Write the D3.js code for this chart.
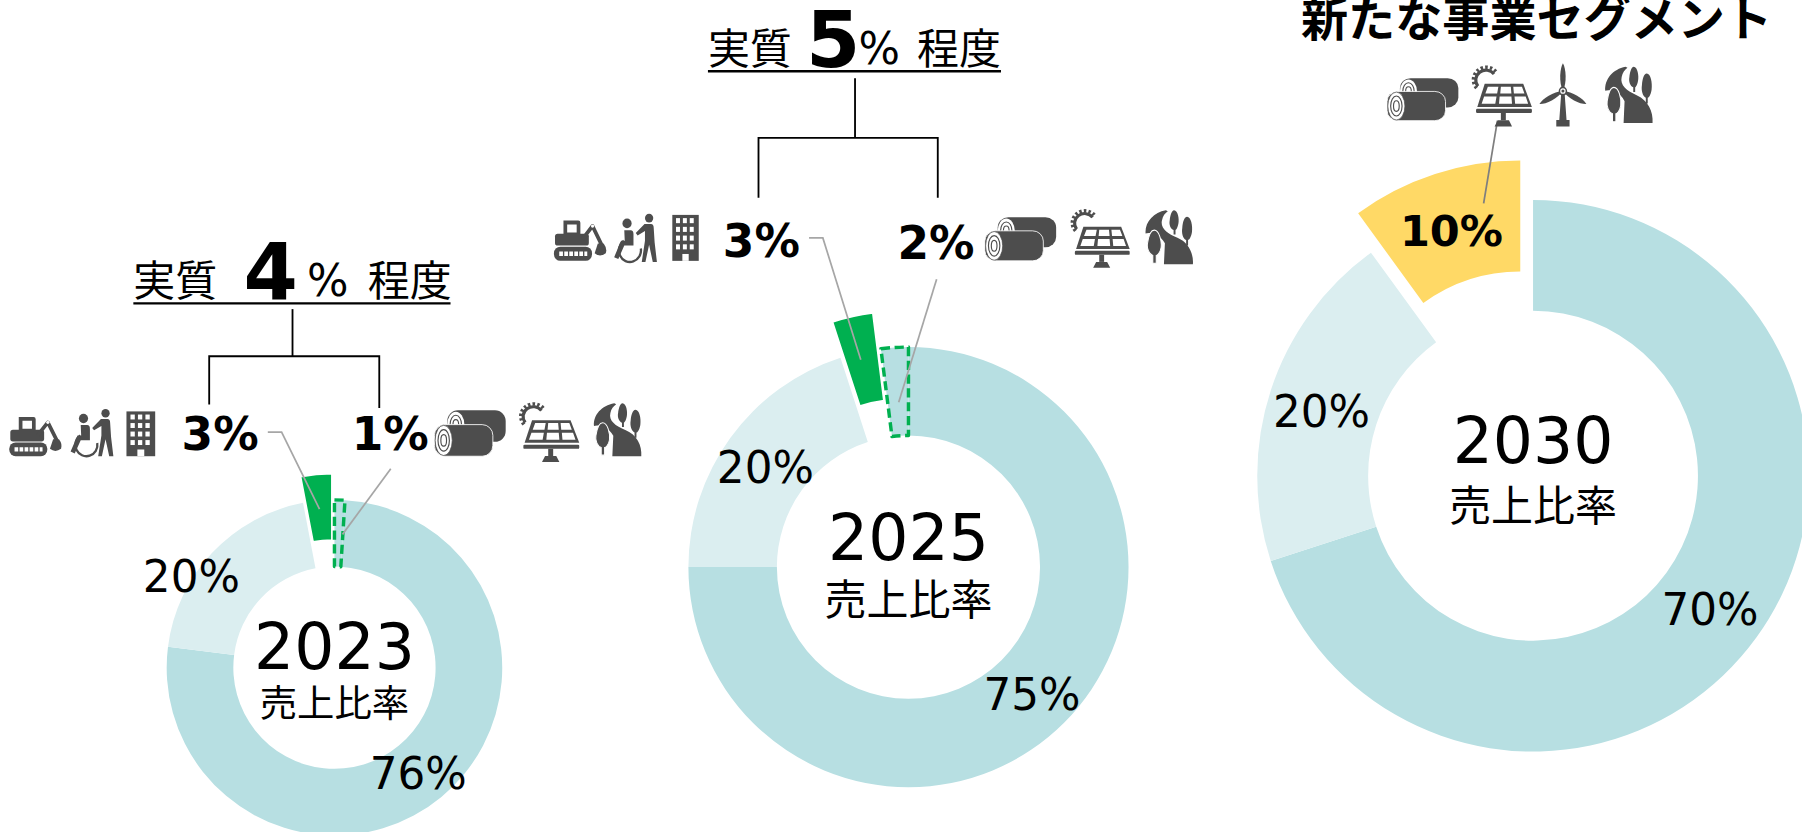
<!DOCTYPE html>
<html><head><meta charset="utf-8">
<script src="https://cdn.jsdelivr.net/npm/d3@7/dist/d3.min.js"></script>
<style>html,body{margin:0;background:#fff}svg{display:block;font-family:"DejaVu Sans","Noto Sans CJK JP",sans-serif}</style>
</head><body><svg id="c"></svg>
<script>
// ---- data ----
const years = ["2023","2025","2030"];
const caption = "売上比率";
const values2023 = [76,20,3,1];
const values2025 = [75,20,3,2];
const values2030 = [70,20,10];
const kinds2023 = ["main","sub","green","dashed"];
const kinds2025 = ["main","sub","green","dashed"];
const kinds2030 = ["main","sub","yellow"];
const headerLeft = "実質", headerRight = "程度";
const header2023 = "4", header2025 = "5";
const title2030 = "新たな事業セグメント";

const color = {main:"#b7dfe2",sub:"#dbeef0",green:"#00b050",yellow:"#ffd966",dashed:"#b7dfe2"};
const W=1568,H=724;
const svg=d3.select("#c").attr("width",1802).attr("height",832).attr("viewBox",`0 0 ${W} ${H}`);

const charts=[
 {values:values2023,kinds:kinds2023,year:years[0],cx:291,cy:581,r:146,r0:88,rot:3.6,explode:23,
  yearY:582,capY:624,capSize:32.5,yearSize:55,
  labels:[{t:"76%",x:364,y:687},{t:"20%",x:166.5,y:515}]},
 {values:values2025,kinds:kinds2025,year:years[1],cx:790.5,cy:493.5,r:191.5,r0:114.5,rot:0,explode:32,
  yearY:487,capY:535,capSize:36.5,yearSize:55,
  labels:[{t:"75%",x:898,y:618},{t:"20%",x:666,y:420}]},
 {values:values2030,kinds:kinds2030,year:years[2],cx:1334,cy:414,r:240,r0:143.5,rot:0,explode:36,
  yearY:403,capY:453,capSize:36.5,yearSize:55,
  labels:[{t:"70%",x:1488,y:544},{t:"20%",x:1150,y:372}]}
];

charts.forEach(c=>{
  const g=svg.append("g").attr("transform",`translate(${c.cx},${c.cy})`);
  const rad=c.rot*Math.PI/180;
  const pie=d3.pie().sort(null).startAngle(rad).endAngle(rad+2*Math.PI);
  const arc=d3.arc().innerRadius(c.r0).outerRadius(c.r);
  const arcs=pie(c.values).map((d,i)=>({...d,kind:c.kinds[i]}));
  g.selectAll("path.s").data(arcs).join("path").attr("class","s")
    .attr("d",arc)
    .attr("fill",d=>color[d.kind])
    .attr("stroke",d=>d.kind==="green"?"#fff":d.kind==="dashed"?"#00b050":"none")
    .attr("stroke-width",d=>d.kind==="dashed"?3:1.6)
    .attr("stroke-dasharray",d=>d.kind==="dashed"?"8 4":null)
    .attr("stroke-linejoin","round")
    .attr("transform",d=>{
      if(d.kind!=="green"&&d.kind!=="yellow")return null;
      const m=(d.startAngle+d.endAngle)/2;
      return `translate(${Math.sin(m)*c.explode},${-Math.cos(m)*c.explode})`;
    });
  c.labels.forEach(l=>svg.append("text").attr("x",l.x).attr("y",l.y).attr("text-anchor","middle").attr("font-size",38).text(l.t));
  svg.append("text").attr("x",c.cx).attr("y",c.yearY).attr("text-anchor","middle").attr("font-size",c.yearSize).text(c.year);
  svg.append("text").attr("x",c.cx).attr("y",c.capY).attr("text-anchor","middle").attr("font-size",c.capSize).text(caption);
});

// ---- header text ----
function txt(x,y,s,size,weight,anchor){
  return svg.append("text").attr("x",x).attr("y",y).attr("font-size",size).attr("font-weight",weight||400).attr("text-anchor",anchor||"start").text(s);
}
function line(pts,col,w){
  svg.append("path").attr("d",d3.line()(pts)).attr("fill","none").attr("stroke",col).attr("stroke-width",w);
}
txt(116,258,headerLeft,36.5); txt(235.5,260,header2023,68,700,"middle"); txt(267,258,"%",38); txt(320,258,headerRight,36.5);
line([[116,264],[392,264]],"#000",2);
txt(616,56,headerLeft,36.5); txt(725,58,header2025,68,700,"middle"); txt(747,56,"%",38); txt(798,56,headerRight,36.5);
line([[616,62],[871,62]],"#000",2);
txt(1337,31,title2030,41,700,"middle");

// ---- brackets ----
line([[254.5,269],[254.5,310]],"#000",1.6); line([[182,352],[182,310],[330,310],[330,355]],"#000",1.6);
line([[744,68],[744,120]],"#000",1.6); line([[660,172],[660,120],[816,120],[816,172]],"#000",1.6);

// ---- bold labels ----
txt(191.5,392,"3%",39.5,700,"middle"); txt(339.5,392,"1%",39.5,700,"middle");
txt(662.5,224,"3%",39.5,700,"middle"); txt(814.5,225,"2%",39.5,700,"middle");
txt(1263,214.5,"10%",37.5,700,"middle");

// ---- leaders ----
const grey="#a6a6a6";
line([[233,376],[245,376],[278,443]],grey,1.5); line([[340,408],[298,465]],grey,1.5);
line([[704,207],[716,207],[749,313]],grey,1.5); line([[815,243],[782,350]],grey,1.5);
line([[1303,105],[1291,177]],"#7f7f7f",1.5);

// ---- icons ----
const ic="#4d4d4d";
function windows(){let s="";for(let r=0;r<4;r++)for(let k=0;k<3;k++)s+=`<rect x="${14+k*26}" y="${7+r*19}" width="15" height="11" fill="#fff"/>`;return s;}
const icons={
 excavator:{w:100,h:76,m:`
  <path fill-rule="evenodd" d="M18 2h28q4 0 4 4v26H18z M25 9v15h18V9z"/>
  <rect x="2" y="26" width="64" height="22" rx="5"/>
  <rect x="0" y="50" width="72" height="26" rx="12"/>
  <line x1="10" x2="63" y1="63" y2="63" stroke="#fff" stroke-width="8" stroke-dasharray="7 2.5"/>
  <path d="M54 36L73 12L90 46" fill="none" stroke="${ic}" stroke-width="7" stroke-linejoin="round"/>
  <circle cx="73" cy="12" r="3" fill="#fff"/>
  <path d="M83 44h11q7 9 4 18q-11 8-21 0z"/>`},
 wheelchair:{w:100,h:100,m:`
  <circle cx="34" cy="20" r="10"/><circle cx="82" cy="9" r="9"/>
  <path d="M28 34h14q6 0 6 8v24h-20l-13 28-9-4 15-34h8z"/>
  <path d="M27 56A24 24 0 1 0 64 72" fill="none" stroke="${ic}" stroke-width="5"/>
  <path d="M72 21h14q6 0 6 8l2 30 5 41h-9l-8-36-8 36h-8l7-44v-20l-16 9-4-5z"/>`},
 building:{w:100,h:100,m:`<rect width="100" height="100"/>${windows()}<rect x="38" y="85" width="24" height="15" fill="#fff"/>`},
 logs:{w:100,h:64,m:`
  <rect x="18" y="0" width="82" height="44" rx="15"/>
  <ellipse cx="30" cy="20" rx="12" ry="18" fill="#fff"/><ellipse cx="30" cy="20" rx="8" ry="13" fill="none" stroke="${ic}" stroke-width="1.6"/><ellipse cx="30" cy="20" rx="4" ry="7" fill="none" stroke="${ic}" stroke-width="1.6"/>
  <rect x="0" y="20" width="82" height="44" rx="15" stroke="#fff" stroke-width="1.2"/>
  <ellipse cx="13" cy="42" rx="12" ry="21" fill="#fff" stroke="${ic}" stroke-width="1"/>
  <ellipse cx="13" cy="42" rx="8" ry="15" fill="none" stroke="${ic}" stroke-width="1.6"/>
  <ellipse cx="13" cy="42" rx="4" ry="8" fill="none" stroke="${ic}" stroke-width="1.6"/>`},
 solar:{w:100,h:100,m:`
  <path d="M13 34A16 16 0 1 1 39 14" fill="none" stroke="${ic}" stroke-width="5"/>
  <path d="M11 37A20 20 0 1 1 42 10" fill="none" stroke="${ic}" stroke-width="6" stroke-dasharray="4 3.5"/>
  <path d="M24 30H86L100 68H12z"/>
  <path d="M29 35H46L44 46H25z M50 35H66L67 46H49z M70 35H84L88 46H71z M23 51H43L41 63H19z M48 51H67L68 63H47z M72 51H90L94 63H73z" fill="#fff"/>
  <rect x="10" y="71" width="90" height="7" rx="2"/>
  <rect x="50" y="78" width="8" height="12"/><path d="M40 100L45 90H63L68 100z"/>`},
 trees:{w:100,h:100,m:`
  <path d="M44 2C18 6 0 24 2 44C8 42 30 42 42 62L40 100H100C102 80 90 60 68 52C46 44 32 34 36 20C38 12 42 8 48 4z"/>
  <path d="M61 2C69 2 72 18 70 26C68 36 64 38 64 38V46H60V38C54 36 50 28 52 20C53 12 56 2 61 2z"/>
  <path d="M88 14C96 14 100 30 98 42C96 52 92 56 90 56V66H86V56C80 54 76 44 78 34C79 24 82 14 88 14z"/>
  <path d="M20 38C30 38 36 58 34 70C32 80 26 84 24 84V98H17V84C10 82 4 72 6 62C8 50 12 38 20 38z" stroke="#fff" stroke-width="2"/>`},
 turbine:{w:80,h:100,m:`
  <path d="M37 50H43L46 90H51V100H29V90H34z"/>
  <path d="M40 44C33 30 35 8 40 0C45 8 47 30 40 44z"/>
  <path d="M40 44C33 30 35 8 40 0C45 8 47 30 40 44z" transform="rotate(118 40 44)"/>
  <path d="M40 44C33 30 35 8 40 0C45 8 47 30 40 44z" transform="rotate(-118 40 44)"/>
  <circle cx="40" cy="44" r="7"/><circle cx="40" cy="44" r="4.5" fill="#fff"/><circle cx="40" cy="44" r="2.5"/>`}
};
const placements=[
 ["excavator",8,362,46,35],["wheelchair",59,356,40,41],["building",110,358,25,39],
 ["logs",378,357,62,40],["solar",450,350,54,52],["trees",516,350,42,47],
 ["excavator",482,191,46,36],["wheelchair",532,186,40,42],["building",585,187,23,40],
 ["logs",857,189,62,38],["solar",930,182,53,51],["trees",996,182,42,48],
 ["logs",1207,68,62,37],["solar",1279,57,54,53],["turbine",1339,55,42,55],["trees",1396,57,42,50]
];
placements.forEach(([n,x,y,w,h])=>{
  const d=icons[n];
  svg.append("g").attr("transform",`translate(${x},${y}) scale(${w/d.w},${h/d.h})`).attr("fill",ic).html(d.m);
});
</script></body></html>
